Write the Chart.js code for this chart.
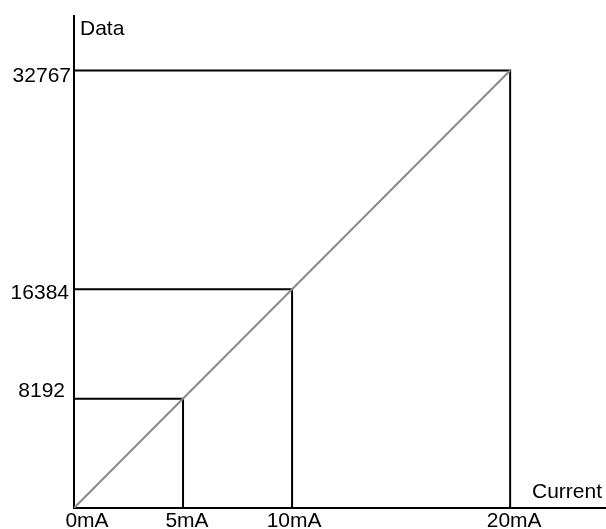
<!DOCTYPE html>
<html>
<head>
<meta charset="utf-8">
<script src="https://cdn.jsdelivr.net/npm/chart.js@4/dist/chart.umd.min.js"></script>
<style>
  html, body { margin: 0; padding: 0; background: #fff; }
  #wrap { width: 606px; height: 529px; }
</style>
</head>
<body>
<div id="wrap"><canvas id="chart" width="606" height="529"></canvas></div>
<script>
// values
const currentMA = [0, 5, 10, 20];
const dataCounts = [0, 8192, 16384, 32767];
const xTickLabels = ['0mA', '5mA', '10mA', '20mA'];
const yTickLabels = ['0', '8192', '16384', '32767'];
const xTitle = 'Current';
const yTitle = 'Data';

const FONT = '21px "Liberation Sans", Arial, sans-serif';

// guide lines from each marked point to both axes
const guideSets = [];
for (let i = 1; i < currentMA.length; i++) {
    guideSets.push({
        data: [
            { x: 0, y: dataCounts[i] },
            { x: currentMA[i], y: dataCounts[i] },
            { x: currentMA[i], y: 0 }
        ],
        borderColor: '#000',
        borderWidth: 2,
        pointRadius: 0,
        showLine: true,
        order: 2
    });
}

const diagonal = {
    data: [
        { x: currentMA[0], y: dataCounts[0] },
        { x: currentMA[currentMA.length - 1], y: dataCounts[dataCounts.length - 1] }
    ],
    borderColor: '#8a8a8a',
    borderWidth: 2,
    pointRadius: 0,
    showLine: true,
    order: 1
};

// labels drawn next to the axes, small nudges
const labelPlugin = {
    id: 'axisLabels',
    afterDraw(chart) {
        const ctx = chart.ctx;
        const xs = chart.scales.x, ys = chart.scales.y;
        ctx.save();
        ctx.font = FONT;
        ctx.fillStyle = '#000';
        ctx.textBaseline = 'alphabetic';

        const xNudge = [13, 4, 2, 4];
        ctx.textAlign = 'center';
        currentMA.forEach((v, i) => {
            ctx.fillText(xTickLabels[i], xs.getPixelForValue(v) + xNudge[i], ys.bottom + 19);
        });

        const yNudge = [[0, 0], [-8, -2], [-4, 10], [-2, 11]];
        ctx.textAlign = 'right';
        for (let i = 1; i < dataCounts.length; i++) {
            ctx.fillText(yTickLabels[i], xs.left - 1 + yNudge[i][0], ys.getPixelForValue(dataCounts[i]) + yNudge[i][1]);
        }

        ctx.textAlign = 'right';
        ctx.fillText(xTitle, xs.right - 3, ys.bottom - 10);
        ctx.textAlign = 'left';
        ctx.fillText(yTitle, xs.left + 6, ys.top + 19);
        ctx.restore();
    }
};

new Chart(document.getElementById('chart'), {
    type: 'scatter',
    data: { datasets: [diagonal, ...guideSets] },
    options: {
        responsive: false,
        animation: false,
        layout: { padding: { top: 16, right: 1, left: 0, bottom: 0 } },
        plugins: { legend: { display: false }, tooltip: { enabled: false } },
        scales: {
            x: {
                type: 'linear',
                min: 0,
                max: 24.35,
                grid: { display: false, drawTicks: false },
                border: { display: true, color: '#000', width: 2 },
                ticks: { display: false },
                afterFit(scale) { scale.height = 21; }
            },
            y: {
                type: 'linear',
                min: 0,
                max: 36850,
                grid: { display: false, drawTicks: false },
                border: { display: true, color: '#000', width: 2 },
                ticks: { display: false },
                afterFit(scale) { scale.width = 74; }
            }
        }
    },
    plugins: [labelPlugin]
});
</script>
</body>
</html>
